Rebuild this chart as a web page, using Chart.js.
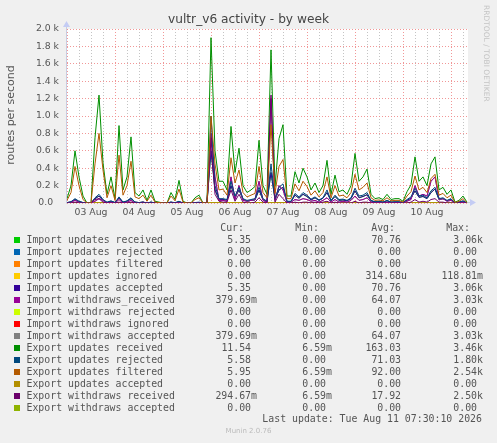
<!DOCTYPE html>
<html>
<head>
<meta charset="utf-8">
<script src="https://cdn.jsdelivr.net/npm/chart.js@4.4.1/dist/chart.umd.min.js"></script>
<style>
  html, body { margin: 0; padding: 0; background: #f0f0f0; }
  #wrap { position: relative; width: 497px; height: 443px; overflow: hidden; }
  #chart { position: absolute; left: 0; top: 0; }
  .txt { position: absolute; white-space: pre; color: #555; }
  .mono { font-family: 'DejaVu Sans Mono', monospace; font-size: 9.87px; line-height: 12px; height: 12px; }
  .box { position: absolute; width: 6px; height: 6px; }
</style>
</head>
<body>
<div id="wrap">
  <canvas id="chart" width="497" height="443"></canvas>
  <div class="txt" style="left:0;width:497px;top:12px;text-align:center;font:12.2px 'DejaVu Sans';color:#444;">vultr_v6 activity - by week</div>
  <div class="txt" style="left:-39px;top:108px;width:100px;text-align:center;font:11px 'DejaVu Sans';transform:rotate(-90deg);line-height:14px;">routes per second</div>
  <div class="txt" style="left:482px;top:5px;writing-mode:vertical-rl;font:7.5px 'DejaVu Sans';color:#c4c4c4;">RRDTOOL / TOBI OETIKER</div>
  <div id="legend"></div>
  <div class="txt" style="left:0;width:497px;top:427px;text-align:center;font:7px 'DejaVu Sans';color:#bbb;">Munin 2.0.76</div>
</div>
<script>
// one value every 2 hours, starting 03 Aug 00:00
const stepHours = 2;
const dayLabels = ['03 Aug', '04 Aug', '05 Aug', '06 Aug', '07 Aug', '08 Aug', '09 Aug', '10 Aug'];
const yTickLabels = ['0.0  ', '0.2 k', '0.4 k', '0.6 k', '0.8 k', '1.0 k', '1.2 k', '1.4 k', '1.6 k', '1.8 k', '2.0 k'];

const exportUpdatesReceived = [
  50, 200, 600, 300, 80, 0, 0, 750, 1240, 460,
  100, 300, 50, 890, 150, 300, 760, 120, 80, 150,
  30, 150, 20, 10, 0, 0, 120, 40, 260, 20,
  0, 0, 60, 90, 0, 0, 1900, 600, 250, 250,
  150, 880, 350, 630, 200, 120, 150, 190, 720, 200,
  100, 1760, 190, 740, 900, 80, 80, 360, 230, 400,
  300, 150, 230, 120, 200, 490, 100, 320, 130, 150,
  100, 200, 570, 250, 300, 390, 100, 50, 60, 40,
  100, 40, 50, 50, 20, 130, 210, 530, 250, 300,
  200, 450, 530, 150, 180, 100, 150, 10, 30, 80,
  10
];
const exportUpdatesFiltered = [
  30, 120, 420, 200, 40, 0, 0, 450, 800, 380,
  60, 200, 30, 550, 90, 200, 480, 70, 50, 90,
  20, 90, 10, 5, 0, 0, 80, 25, 160, 10,
  0, 0, 40, 60, 0, 0, 1000, 450, 150, 160,
  90, 520, 230, 380, 120, 70, 90, 110, 420, 120,
  60, 900, 110, 420, 500, 50, 50, 220, 140, 250,
  190, 90, 140, 70, 120, 300, 60, 200, 80, 90,
  60, 120, 330, 150, 180, 230, 60, 30, 35, 25,
  60, 25, 30, 30, 10, 80, 130, 310, 150, 180,
  120, 280, 330, 90, 110, 60, 90, 5, 20, 50,
  5
];
const exportUpdatesRejected = [
  5, 15, 50, 20, 5, 0, 0, 60, 100, 40,
  10, 25, 5, 70, 10, 25, 60, 10, 5, 10,
  0, 10, 0, 0, 0, 0, 10, 5, 20, 0,
  0, 0, 5, 10, 0, 0, 1000, 200, 50, 50,
  40, 250, 80, 180, 50, 30, 40, 50, 180, 50,
  20, 450, 50, 180, 220, 20, 20, 110, 70, 120,
  90, 45, 70, 35, 60, 150, 30, 90, 40, 45,
  30, 60, 170, 80, 90, 120, 30, 15, 20, 10,
  30, 10, 15, 15, 5, 40, 70, 170, 80, 90,
  60, 140, 180, 50, 60, 30, 50, 0, 10, 25,
  0
];
const importUpdatesReceived = [
  5, 10, 40, 15, 5, 0, 0, 50, 80, 30,
  5, 20, 5, 60, 10, 20, 50, 10, 5, 10,
  0, 10, 0, 0, 0, 0, 10, 0, 15, 0,
  0, 0, 5, 5, 0, 0, 600, 150, 40, 40,
  30, 200, 60, 150, 40, 20, 30, 35, 150, 35,
  15, 350, 40, 150, 180, 15, 15, 90, 55, 100,
  75, 35, 60, 30, 55, 120, 25, 75, 30, 35,
  25, 50, 140, 60, 75, 95, 25, 10, 15, 10,
  25, 10, 10, 10, 5, 30, 55, 140, 65, 75,
  50, 120, 160, 40, 50, 25, 40, 0, 10, 20,
  0
];
const importUpdatesAccepted = importUpdatesReceived;
const importWithdrawsReceived = [
  0, 10, 30, 10, 0, 0, 0, 20, 50, 30,
  0, 10, 0, 40, 0, 10, 30, 0, 0, 10,
  0, 5, 0, 0, 0, 0, 5, 0, 10, 0,
  0, 0, 0, 5, 0, 0, 800, 300, 30, 30,
  20, 300, 40, 200, 30, 20, 30, 40, 250, 30,
  10, 1200, 30, 200, 150, 10, 10, 40, 30, 50,
  40, 20, 30, 10, 30, 60, 10, 40, 10, 20,
  10, 30, 80, 30, 40, 60, 10, 0, 5, 0,
  10, 0, 5, 5, 0, 20, 40, 200, 80, 100,
  80, 250, 300, 40, 50, 20, 30, 0, 5, 10,
  0
];
const importWithdrawsAccepted = importWithdrawsReceived;
const exportWithdrawsReceived = [
  0, 0, 10, 0, 0, 0, 0, 40, 50, 10,
  0, 0, 0, 10, 0, 0, 10, 0, 0, 0,
  0, 0, 0, 0, 0, 0, 0, 0, 0, 0,
  0, 0, 0, 0, 0, 0, 750, 100, 20, 10,
  10, 150, 20, 100, 10, 0, 0, 10, 60, 10,
  0, 1240, 10, 100, 50, 0, 0, 10, 0, 10,
  10, 0, 10, 0, 10, 20, 0, 10, 0, 0,
  0, 0, 20, 0, 10, 10, 0, 0, 0, 0,
  0, 0, 0, 0, 0, 0, 10, 40, 10, 20,
  10, 40, 50, 10, 10, 0, 0, 0, 0, 0,
  0
];
const zeroSeries = new Array(exportUpdatesReceived.length).fill(0);

const legendNames = [
  'Import updates received', 'Import updates rejected', 'Import updates filtered',
  'Import updates ignored', 'Import updates accepted', 'Import withdraws_received',
  'Import withdraws rejected', 'Import withdraws ignored', 'Import withdraws accepted',
  'Export updates received', 'Export updates rejected', 'Export updates filtered',
  'Export updates accepted', 'Export withdraws received', 'Export withdraws accepted'
];
const curValues = ['5.35', '0.00', '0.00', '0.00', '5.35', '379.69m', '0.00', '0.00', '379.69m', '11.54', '5.58', '5.95', '0.00', '294.67m', '0.00'];
const minValues = ['0.00', '0.00', '0.00', '0.00', '0.00', '0.00', '0.00', '0.00', '0.00', '6.59m', '0.00', '6.59m', '0.00', '6.59m', '0.00'];
const avgValues = ['70.76', '0.00', '0.00', '314.68u', '70.76', '64.07', '0.00', '0.00', '64.07', '163.03', '71.03', '92.00', '0.00', '17.92', '0.00'];
const maxValues = ['3.06k', '0.00', '0.00', '118.81m', '3.06k', '3.03k', '0.00', '0.00', '3.03k', '3.46k', '1.80k', '2.54k', '0.00', '2.50k', '0.00'];

const colors = ['#00CC00', '#0066B3', '#FF8000', '#FFCC00', '#330099', '#990099', '#CCFF00', '#FF0000',
  '#808080', '#008F00', '#00487D', '#B35A00', '#B38F00', '#6B006B', '#8FB300'];

// values per legend row
const seriesData = [
  importUpdatesReceived, zeroSeries, zeroSeries, zeroSeries, importUpdatesAccepted,
  importWithdrawsReceived, zeroSeries, zeroSeries, importWithdrawsAccepted,
  exportUpdatesReceived, exportUpdatesRejected, exportUpdatesFiltered, zeroSeries,
  exportWithdrawsReceived, zeroSeries
];
// bottom -> top
const drawOrder = [1, 2, 3, 6, 7, 12, 14, 0, 4, 8, 5, 9, 10, 13, 11];

function toPoints(arr) {
  return arr.map((v, i) => ({ x: i * stepHours, y: v }));
}

const datasets = drawOrder.map((idx, pos) => ({
  label: legendNames[idx],
  data: toPoints(seriesData[idx]),
  borderColor: colors[idx],
  borderWidth: 1,
  pointRadius: 0,
  tension: 0,
  fill: false,
  order: drawOrder.length - pos
}));

const plotDecor = {
  id: 'plotDecor',
  beforeDraw(chart) {
    const { ctx, chartArea: a } = chart;
    ctx.save();
    ctx.fillStyle = '#ffffff';
    ctx.fillRect(a.left, a.top, a.right - a.left, a.bottom - a.top);
    ctx.restore();
  },
  beforeDatasetsDraw(chart) {
    const { ctx, chartArea: a } = chart;
    ctx.save();
    ctx.strokeStyle = '#c8cce0';
    ctx.lineWidth = 1;
    ctx.beginPath();
    ctx.moveTo(a.left - 0.5, a.bottom + 0.5);
    ctx.lineTo(a.left - 0.5, a.top - 6);
    ctx.moveTo(a.left - 1, a.bottom - 0.5);
    ctx.lineTo(a.right + 4, a.bottom - 0.5);
    ctx.stroke();
    ctx.restore();
  },
  afterDraw(chart) {
    const { ctx, chartArea: a } = chart;
    ctx.save();
    ctx.fillStyle = '#c4ccf4';
    ctx.beginPath();
    ctx.moveTo(a.left - 0.5, a.top - 8);
    ctx.lineTo(a.left - 4, a.top - 2);
    ctx.lineTo(a.left + 3, a.top - 2);
    ctx.closePath();
    ctx.fill();
    ctx.beginPath();
    ctx.moveTo(a.right + 8, a.bottom - 0.5);
    ctx.lineTo(a.right + 2, a.bottom - 4);
    ctx.lineTo(a.right + 2, a.bottom + 3);
    ctx.closePath();
    ctx.fill();
    ctx.restore();
  }
};

Chart.defaults.font.family = "'DejaVu Sans'";
Chart.defaults.color = '#555';

const majorGrid = 'rgba(240,140,140,0.9)';
const minorGrid = 'rgba(190,190,190,0.9)';

new Chart(document.getElementById('chart'), {
  type: 'line',
  data: { datasets },
  options: {
    responsive: false,
    animation: false,
    devicePixelRatio: 1,
    layout: { padding: { top: 29, right: 29, bottom: 220, left: 0 } },
    plugins: { legend: { display: false }, tooltip: { enabled: false } },
    scales: {
      x: {
        type: 'linear',
        min: 0,
        max: 200.5,
        afterBuildTicks: s => {
          const t = [];
          for (let h = 0; h <= 198; h += 6) t.push({ value: h });
          s.ticks = t;
        },
        afterFit: s => { s.height = 20; },
        ticks: {
          autoSkip: false,
          maxRotation: 0,
          padding: 4,
          font: { size: 9.3 },
          color: '#555',
          callback: v => (v % 24 === 12 ? dayLabels[(v - 12) / 24] : '')
        },
        grid: {
          drawTicks: false,
          color: c => (c.tick && c.tick.value % 24 === 0 ? majorGrid : minorGrid)
        },
        border: { display: false, dash: [1, 2] }
      },
      y: {
        min: 0,
        max: 2000,
        afterFit: s => { s.width = 67; },
        ticks: {
          stepSize: 100,
          padding: 8,
          font: { size: 9.3 },
          color: '#555',
          callback: v => (v % 200 === 0 ? yTickLabels[v / 200] : '')
        },
        grid: {
          drawTicks: false,
          color: c => (c.tick && c.tick.value % 200 === 0 ? majorGrid : minorGrid)
        },
        border: { display: false, dash: [1, 2] }
      }
    }
  },
  plugins: [plotDecor]
});

// legend table
const legend = document.getElementById('legend');
const colRight = [257, 332, 407, 483];
const headRight = [244, 319, 395, 470];
const heads = ['Cur:', 'Min:', 'Avg:', 'Max:'];
let html = '';
heads.forEach((h, i) => {
  html += `<div class="txt mono" style="top:222px;right:${497 - headRight[i]}px">${h}</div>`;
});
function withSuffix(s) {
  return /[a-z]$/i.test(s) ? s : s + ' ';
}
legendNames.forEach((name, i) => {
  const top = 234 + i * 12;
  html += `<div class="box" style="left:14px;top:${top + 3}px;background:${colors[i]}"></div>`;
  html += `<div class="txt mono" style="left:26.5px;top:${top}px">${name}</div>`;
  [curValues, minValues, avgValues, maxValues].forEach((col, c) => {
    html += `<div class="txt mono" style="top:${top}px;right:${497 - colRight[c]}px">${withSuffix(col[i])}</div>`;
  });
});
html += `<div class="txt mono" style="top:413px;right:15px">Last update: Tue Aug 11 07:30:10 2026</div>`;
legend.innerHTML = html;
</script>
</body>
</html>
